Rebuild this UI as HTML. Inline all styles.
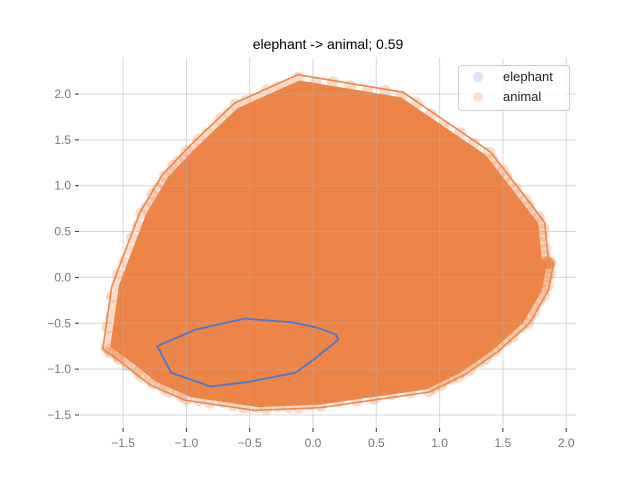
<!DOCTYPE html>
<html><head><meta charset="utf-8"><style>
body{margin:0;background:#fff}
svg{display:block;font-family:"Liberation Sans","DejaVu Sans",sans-serif}
</style></head><body>
<svg id="chart" width="640" height="480" viewBox="0 0 640 480">
<rect width="640" height="480" fill="#fff"/>
<text x="328" y="49" font-size="14" text-anchor="middle" fill="#000">elephant -&gt; animal; 0.59</text>
<g id="cloud"></g>
<g id="grid"></g>
<g id="hulls"></g>
<g id="axes"></g>
<g>
<rect x="458.5" y="65.5" width="111" height="45" rx="3" fill="#fff" fill-opacity="0.8" stroke="#ccc"/>
<circle cx="478" cy="77" r="5" fill="#4878cf" fill-opacity="0.2"/>
<text x="503" y="81" font-size="13" fill="#222">elephant</text>
<circle cx="478" cy="97" r="5" fill="#ee854a" fill-opacity="0.25"/>
<text x="503" y="101" font-size="13" fill="#222">animal</text>
</g>
</svg>
<script>
const xTicks=[-1.5,-1.0,-0.5,0.0,0.5,1.0,1.5,2.0];
const yTicks=[-1.5,-1.0,-0.5,0.0,0.5,1.0,1.5,2.0];
const animalHullX=[-1.66,-1.59,-1.37,-1.19,-0.97,-0.62,-0.12,0.71,1.40,1.62,1.83,1.86,1.90,1.86,1.71,1.46,1.20,0.92,0.06,-0.46,-1.01,-1.29,-1.52];
const animalHullY=[-0.78,-0.10,0.70,1.12,1.44,1.90,2.21,2.02,1.37,0.98,0.60,0.17,0.15,-0.14,-0.50,-0.81,-1.06,-1.25,-1.42,-1.45,-1.34,-1.17,-0.92];
const elephantHullX=[-1.23,-0.93,-0.54,-0.16,0.04,0.18,0.20,0.02,-0.14,-0.51,-0.81,-1.12];
const elephantHullY=[-0.75,-0.57,-0.45,-0.49,-0.55,-0.62,-0.68,-0.88,-1.04,-1.14,-1.19,-1.04];
const X=v=>313+v*126.6, Y=v=>277.4-v*91.7;
const NS='http://www.w3.org/2000/svg';
function mk(t,a,p){const e=document.createElementNS(NS,t);for(const k in a)e.setAttribute(k,a[k]);p.appendChild(e);return e;}
const cloud=document.getElementById('cloud'),grid=document.getElementById('grid'),axes=document.getElementById('axes'),hulls=document.getElementById('hulls');
const cx=animalHullX.reduce((a,b)=>a+b)/animalHullX.length, cy=animalHullY.reduce((a,b)=>a+b)/animalHullY.length;
const core=animalHullX.map((v,i)=>X(cx+(v-cx)*0.955)+','+Y(cy+(animalHullY[i]-cy)*0.955)).join(' ');
const cp=mk('polygon',{points:core,fill:'#ec8448','stroke':'#ec8448','stroke-width':6,'stroke-linejoin':'round'},cloud);


for(let i=0;i<animalHullX.length;i++){
  const j=(i+1)%animalHullX.length;
  for(let s=0;s<6;s++){
    const t=s/6;
    const f=[0.985,0.975,0.992][(i+s)%3];
    const dx=animalHullX[i]+(animalHullX[j]-animalHullX[i])*t, dy=animalHullY[i]+(animalHullY[j]-animalHullY[i])*t;
    const c=mk('circle',{cx:X(cx+(dx-cx)*f),cy:Y(cy+(dy-cy)*f),r:6,fill:'#ee854a','fill-opacity':0.3},cloud);
    
    
  }
}
xTicks.forEach(v=>{const l=mk('line',{x1:X(v),x2:X(v),y1:57.6,y2:427.2,stroke:'#b0b0b0','stroke-opacity':0.5,'stroke-width':1},grid);


const tk=mk('line',{x1:X(v),x2:X(v),y1:428,y2:432,stroke:'#333'},axes);


const tx=mk('text',{x:X(v),y:447,'font-size':12,'text-anchor':'middle',fill:'#777'},axes);tx.textContent=v.toFixed(1).replace('-','\u2212');

});
yTicks.forEach(v=>{const l=mk('line',{x1:80,x2:576,y1:Y(v),y2:Y(v),stroke:'#b0b0b0','stroke-opacity':0.5,'stroke-width':1},grid);


const tk=mk('line',{x1:75,x2:79,y1:Y(v),y2:Y(v),stroke:'#333'},axes);


const tx=mk('text',{x:71,y:Y(v)+4,'font-size':12,'text-anchor':'end',fill:'#777'},axes);tx.textContent=v.toFixed(1).replace('-','\u2212');

});
const ah=mk('polygon',{points:animalHullX.map((v,i)=>X(v)+','+Y(animalHullY[i])).join(' '),fill:'none',stroke:'#ee854a','stroke-width':1.6},hulls);


const eh=mk('polygon',{points:elephantHullX.map((v,i)=>X(v)+','+Y(elephantHullY[i])).join(' '),fill:'none',stroke:'#4878cf','stroke-width':1.8},hulls);


</script>
</body></html>
